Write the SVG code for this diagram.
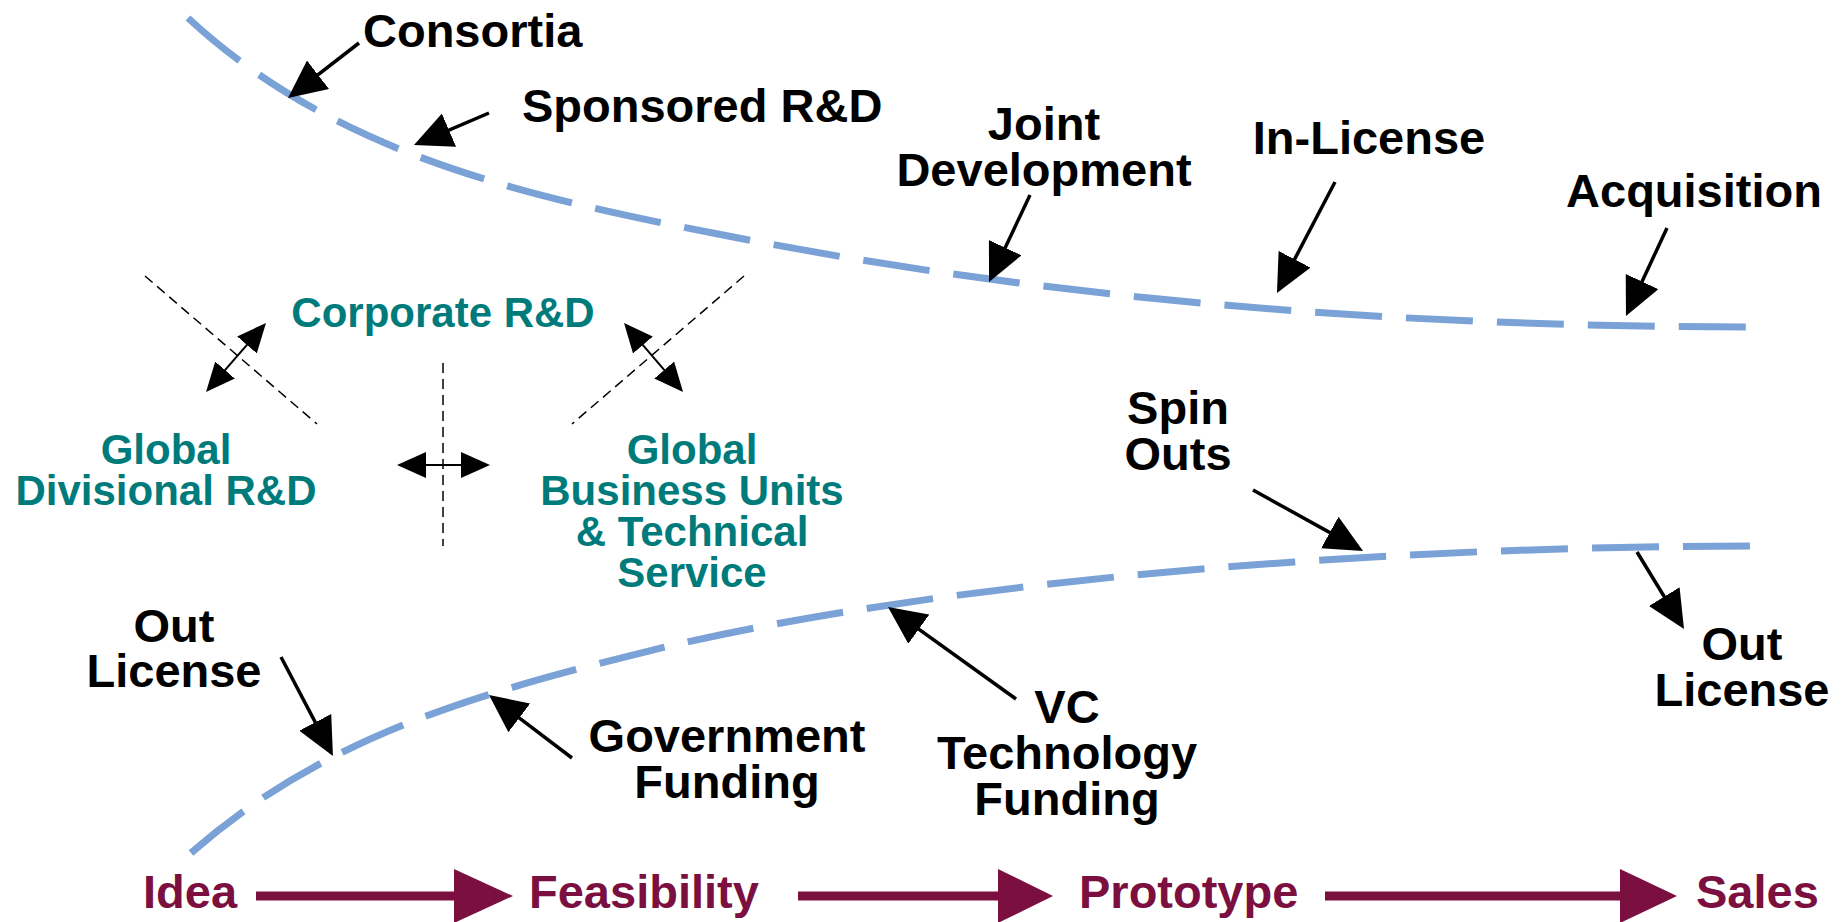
<svg xmlns="http://www.w3.org/2000/svg" width="1847" height="922" viewBox="0 0 1847 922">
<style>
text{font-family:"Liberation Sans",Arial,Helvetica,sans-serif;font-weight:bold;}
.lbl{font-size:47px;fill:#000;}
.mid{text-anchor:middle;}
.org{font-size:42px;fill:#007b7b;text-anchor:middle;}
.stage{font-size:47px;fill:#7b1040;}
.curve{fill:none;stroke:#7ba2d6;stroke-width:7;stroke-dasharray:67 24;}
.arr{stroke:#000;stroke-width:3.5;fill:none;marker-end:url(#ah);}
.thin{stroke:#000;stroke-width:2;fill:none;marker-start:url(#sh);marker-end:url(#sh);}
.dl{stroke:#000;stroke-width:1.5;fill:none;stroke-dasharray:10 6;}
.flow{stroke:#7b1040;stroke-width:9;fill:none;}
.flowhead{fill:#7b1040;}
</style>
<defs>
<marker id="ah" markerUnits="userSpaceOnUse" viewBox="0 0 38 36" markerWidth="38" markerHeight="36" refX="28" refY="18" orient="auto">
<path d="M0,0 L38,18 L0,36 Z" fill="#000"/>
</marker>
<marker id="sh" markerUnits="userSpaceOnUse" viewBox="0 0 29 26" markerWidth="29" markerHeight="26" refX="24" refY="13" orient="auto-start-reverse">
<path d="M0,0 L29,13 L0,26 Z" fill="#000"/>
</marker>
</defs>
<rect width="1847" height="922" fill="#fff"/>

<g id="connectors">
<path class="curve" d="M188,18 C335,154 523,196 723,235 C1063,302 1407,327 1757,327"/>
<path class="curve" d="M191,853 C326,734 485,691 665,647 C975,575 1407,546 1757,546"/>
<line class="arr" x1="359" y1="43" x2="295.9" y2="91.9"/>
<line class="arr" x1="489" y1="113" x2="423.2" y2="141.1"/>
<line class="arr" x1="1030" y1="195" x2="993.3" y2="273"/>
<line class="arr" x1="1335" y1="182" x2="1281.6" y2="284.1"/>
<line class="arr" x1="1667" y1="228" x2="1630.2" y2="306.9"/>
<line class="arr" x1="1253" y1="490" x2="1354.3" y2="546.1"/>
<line class="arr" x1="1637" y1="552" x2="1678.8" y2="620.5"/>
<line class="arr" x1="281" y1="657" x2="328.3" y2="747.1"/>
<line class="arr" x1="572" y1="758" x2="497" y2="701"/>
<line class="arr" x1="1016" y1="699" x2="896.1" y2="612.8"/>
<line class="dl" x1="145" y1="276" x2="317" y2="424"/>
<line class="dl" x1="744" y1="276" x2="572" y2="424"/>
<line class="dl" x1="443" y1="363" x2="443" y2="546"/>
<line class="thin" x1="209.3" y1="388.2" x2="262.7" y2="326.8"/>
<line class="thin" x1="627.3" y1="326.8" x2="679.8" y2="388.2"/>
<line class="thin" x1="402" y1="465" x2="485" y2="465"/>
<line class="flow" x1="256" y1="896" x2="456" y2="896"/>
<path class="flowhead" d="M454,869 L513,896 L454,923 Z"/>
<line class="flow" x1="798" y1="896" x2="1000" y2="896"/>
<path class="flowhead" d="M998,869 L1053,896 L998,923 Z"/>
<line class="flow" x1="1325" y1="896" x2="1622" y2="896"/>
<path class="flowhead" d="M1620,869 L1677,896 L1620,923 Z"/>
</g>

<g id="consortia"><text class="lbl" x="363" y="47">Consortia</text></g>
<g id="sponsored"><text class="lbl" x="522" y="122">Sponsored R&amp;D</text></g>
<g id="joint"><text class="lbl mid" x="1044" y="140">Joint</text><text class="lbl mid" x="1044" y="186">Development</text></g>
<g id="inlicense"><text class="lbl mid" x="1369" y="154">In-License</text></g>
<g id="acquisition"><text class="lbl mid" x="1694" y="207">Acquisition</text></g>
<g id="spinouts"><text class="lbl mid" x="1178" y="424">Spin</text><text class="lbl mid" x="1178" y="470">Outs</text></g>
<g id="outlicense-right"><text class="lbl mid" x="1742" y="660">Out</text><text class="lbl mid" x="1742" y="706">License</text></g>
<g id="outlicense-left"><text class="lbl mid" x="174" y="642">Out</text><text class="lbl mid" x="174" y="687">License</text></g>
<g id="government"><text class="lbl mid" x="727" y="752">Government</text><text class="lbl mid" x="727" y="798">Funding</text></g>
<g id="vc"><text class="lbl mid" x="1067" y="723">VC</text><text class="lbl mid" x="1067" y="769">Technology</text><text class="lbl mid" x="1067" y="815">Funding</text></g>

<g id="corporate"><text class="org" x="443" y="327">Corporate R&amp;D</text></g>
<g id="divisional"><text class="org" x="166" y="464">Global</text><text class="org" x="166" y="505">Divisional R&amp;D</text></g>
<g id="business"><text class="org" x="692" y="464">Global</text><text class="org" x="692" y="505">Business Units</text><text class="org" x="692" y="546">&amp; Technical</text><text class="org" x="692" y="587">Service</text></g>

<g id="idea"><text class="stage" x="143" y="908">Idea</text></g>
<g id="feasibility"><text class="stage" x="529" y="908">Feasibility</text></g>
<g id="prototype"><text class="stage" x="1079" y="908">Prototype</text></g>
<g id="sales"><text class="stage" x="1696" y="908">Sales</text></g>
</svg>
